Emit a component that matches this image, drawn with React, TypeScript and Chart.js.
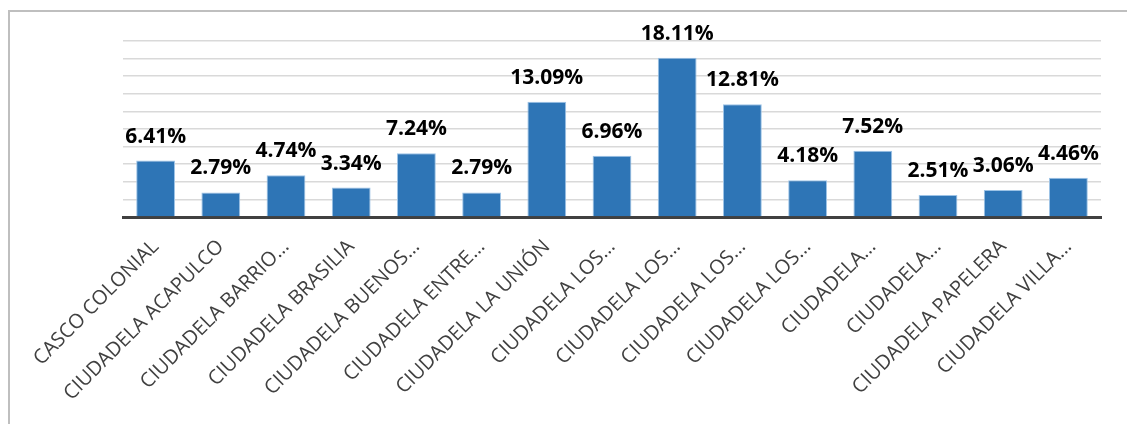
import React, { useEffect, useRef } from "react";
import { Chart, registerables } from "chart.js";

Chart.register(...registerables);

const categories: string[] = [
  "CASCO COLONIAL",
  "CIUDADELA ACAPULCO",
  "CIUDADELA BARRIO…",
  "CIUDADELA BRASILIA",
  "CIUDADELA BUENOS…",
  "CIUDADELA ENTRE…",
  "CIUDADELA LA UNIÓN",
  "CIUDADELA LOS…",
  "CIUDADELA LOS…",
  "CIUDADELA LOS…",
  "CIUDADELA LOS…",
  "CIUDADELA…",
  "CIUDADELA…",
  "CIUDADELA PAPELERA",
  "CIUDADELA VILLA…",
];

const percentages: number[] = [
  6.41, 2.79, 4.74, 3.34, 7.24, 2.79, 13.09, 6.96, 18.11, 12.81, 4.18, 7.52, 2.51, 3.06, 4.46,
];

const yMax = 20;
const yStep = 2;

const W = 1127;
const H = 424;

const framePlugin = {
  id: "frame",
  beforeDraw(chart: any) {
    const ctx = chart.ctx;
    ctx.save();
    ctx.fillStyle = "#ffffff";
    ctx.fillRect(0, 0, chart.width, chart.height);
    ctx.strokeStyle = "#BFBFBF";
    ctx.lineWidth = 2;
    ctx.strokeRect(9, 11, 1300, 600);
    ctx.restore();
  },
};

const labelPlugin = {
  id: "barLabels",
  afterDatasetsDraw(chart: any) {
    const ctx = chart.ctx;
    const meta = chart.getDatasetMeta(0);
    const data = chart.data.datasets[0].data as number[];
    ctx.save();
    ctx.font = "bold 21px 'Open Sans'";
    ctx.fillStyle = "#000000";
    ctx.textAlign = "center";
    ctx.textBaseline = "alphabetic";
    meta.data.forEach((el: any, i: number) => {
      ctx.fillText(data[i].toFixed(2) + "%", el.x, el.y - 18);
    });
    ctx.restore();
  },
};

export default function App() {
  const ref = useRef<HTMLCanvasElement | null>(null);

  useEffect(() => {
    if (!ref.current) return;
    const chart = new Chart(ref.current, {
      type: "bar",
      data: {
        labels: categories,
        datasets: [
          {
            data: percentages,
            backgroundColor: "#2E75B6",
            borderColor: "#9DC3E6",
            borderWidth: 1,
            categoryPercentage: 1,
            barPercentage: 0.595,
          },
        ],
      },
      options: {
        responsive: false,
        animation: false,
        layout: { padding: { left: 123, right: 26, top: 41, bottom: 0 } },
        plugins: {
          legend: { display: false },
          tooltip: { enabled: false },
        },
        scales: {
          x: {
            grid: { display: false, drawTicks: false },
            border: { display: true, color: "#404040", width: 3 },
            ticks: {
              autoSkip: false,
              minRotation: 45,
              maxRotation: 45,
              color: "#404040",
              font: { family: "'Open Sans'", size: 20 },
              padding: 18,
            },
            afterFit: (s: any) => {
              s.height = H - 217;
            },
          },
          y: {
            min: 0,
            max: yMax,
            ticks: { display: false, stepSize: yStep },
            grid: { color: "#D9D9D9", lineWidth: 1.5, drawTicks: false },
            border: { display: false },
            afterFit: (s: any) => {
              s.width = 0;
            },
          },
        },
      },
      plugins: [framePlugin, labelPlugin],
    });
    return () => chart.destroy();
  }, []);

  return (
    <canvas
      ref={ref}
      width={W}
      height={H}
      style={{ position: "absolute", left: 0, top: 0, width: W, height: H, display: "block" }}
    />
  );
}
